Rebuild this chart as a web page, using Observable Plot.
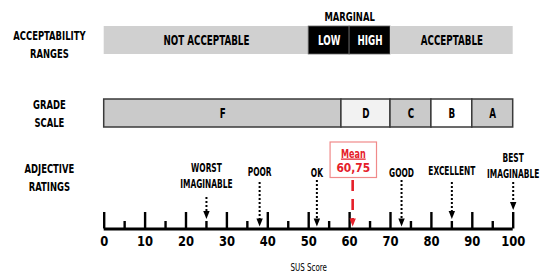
<!DOCTYPE html>
<html><head><meta charset="utf-8">
<script src="https://cdn.jsdelivr.net/npm/d3@7"></script>
<script src="https://cdn.jsdelivr.net/npm/@observablehq/plot@0.6"></script>
<style>body{margin:0;background:#fff}</style>
</head><body><div id="chart"></div>
<script>
// ---- data ----
const rowLabels = ["ACCEPTABILITY\nRANGES", "GRADE\nSCALE", "ADJECTIVE\nRATINGS"];
const marginalLabel = "MARGINAL";
const accLabels = ["NOT ACCEPTABLE", "LOW", "HIGH", "ACCEPTABLE"];
const accStart = [0, 50, 60, 70];
const accEnd = [50, 60, 70, 100];
const grades = ["F", "D", "C", "B", "A"];
const gradeStart = [0, 58, 70, 80, 90];
const gradeEnd = [58, 70, 80, 90, 100];
const adjLabels = ["WORST\nIMAGINABLE", "POOR", "OK", "GOOD", "EXCELLENT", "BEST\nIMAGINABLE"];
const adjScores = [25, 38, 52, 72.7, 85, 100];
const MEAN = 60.75;
const meanTitle = "Mean";
const tickValues = d3.range(0, 101, 5);
const tickLabelValues = d3.range(0, 101, 10);
const axisTitle = "SUS Score";

// ---- layout / style ----
const FONT = "'DejaVu Sans Condensed', 'DejaVu Sans', sans-serif";
const accColors = ["#d0d0d0", "#000", "#000", "#d0d0d0"];
const accText = ["#000", "#fff", "#fff", "#000"];
const gradeColors = ["#cacaca", "#f2f2f2", "#cacaca", "#ffffff", "#cacaca"];
const ACC_Y = [26, 54], GRADE_Y = [99, 127];
const AXIS_Y = 228.5, MAJOR_TOP = 212, MINOR_TOP = 221;
const rowLabelX = -13.4, rowLabelY = [42.5, 111.7, 176];
const adjTextBottom = [187, 175, 176, 176, 174, 177];
const adjLineTop = [197, 182, 180, 180, 182, 182];
const RED = "#e5202a";
const SQUEEZE = 0.72;      // horizontal compression for a Calibri-like narrow face
const SQUEEZE_NUM = 0.95;

const acc = accLabels.map((l, i) => ({l, a: accStart[i], b: accEnd[i], fill: accColors[i], tc: accText[i]}));
const grd = grades.map((l, i) => ({l, a: gradeStart[i], b: gradeEnd[i], fill: gradeColors[i]}));
const ticks = tickValues.map(v => ({v, top: v % 10 === 0 ? MAJOR_TOP : MINOR_TOP}));
const tipY = v => { const t = ticks.find(d => Math.abs(d.v - v) < 0.01); return (t ? t.top : AXIS_Y) - 2.5; };
const adj = adjLabels.map((l, i) => ({l, v: adjScores[i], tb: adjTextBottom[i], lt: adjLineTop[i], tip: tipY(adjScores[i])}));
const arrowHead = {draw(ctx) { ctx.moveTo(0, 0); ctx.lineTo(-3.2, -8); ctx.lineTo(3.2, -8); ctx.closePath(); }};
const meanText = MEAN.toFixed(2).replace(".", ",");
const meanCenter = MEAN + 0.15;

const chart = Plot.plot({
  width: 545, height: 272,
  marginLeft: 0, marginRight: 0, marginTop: 0, marginBottom: 0,
  x: {domain: [0, 100], range: [103.7, 512.7], axis: null},
  y: {domain: [0, 272], range: [0, 272], axis: null},
  marks: [
    Plot.text(rowLabels, {x: rowLabelX, y: (d, i) => rowLabelY[i], text: d => d, fontFamily: FONT, fontWeight: "bold", fontSize: 13, lineHeight: 1.38, fill: "#000"}),
    Plot.rect(acc, {x1: "a", x2: "b", y1: ACC_Y[0], y2: ACC_Y[1], fill: "fill", stroke: d => d.fill === "#000" ? "#666" : "none", strokeWidth: 0.8}),
    Plot.text(acc, {x: d => (d.a + d.b) / 2, y: (ACC_Y[0] + ACC_Y[1]) / 2, text: "l", fill: "tc", fontFamily: FONT, fontWeight: "bold", fontSize: 13.5}),
    Plot.text([marginalLabel], {x: (accStart[1] + accEnd[2]) / 2, y: 16, text: d => d, fontFamily: FONT, fontWeight: "bold", fontSize: 13, fill: "#000"}),
    Plot.rect(grd, {x1: "a", x2: "b", y1: GRADE_Y[0], y2: GRADE_Y[1], fill: "fill", stroke: "#3a3a3a", strokeWidth: 1.5}),
    Plot.text(grd, {x: d => (d.a + d.b) / 2, y: (GRADE_Y[0] + GRADE_Y[1]) / 2, text: "l", fontFamily: FONT, fontWeight: "bold", fontSize: 13.5, fill: "#000"}),
    Plot.ruleX(ticks, {x: "v", y1: "top", y2: AXIS_Y, stroke: "#000", strokeWidth: 2.4}),
    Plot.ruleY([AXIS_Y], {x1: 0, x2: 100, y: d => d, stroke: "#000", strokeWidth: 3}),
    Plot.text(tickLabelValues, {x: d => d, y: 241, text: d => String(d), fontFamily: FONT, fontWeight: "bold", fontSize: 13.5, fill: "#000"}),
    Plot.text([axisTitle], {x: 50, y: 266.5, text: d => d, fontFamily: FONT, fontSize: 11, fill: "#000"}),
    Plot.text(adj, {x: "v", y: "tb", text: "l", lineAnchor: "bottom", lineHeight: 1.38, fontFamily: FONT, fontWeight: "bold", fontSize: 11.5, fill: "#000"}),
    Plot.ruleX(adj, {x: "v", y1: "lt", y2: d => d.tip - 6, stroke: "#000", strokeWidth: 2, strokeDasharray: "2,2"}),
    Plot.dot(adj, {x: "v", y: "tip", symbol: arrowHead, fill: "#000", stroke: "none"}),
    Plot.rect([MEAN], {x1: d => d - 5.4, x2: d => d + 5.95, y1: 142, y2: 177.5, fill: "#fff", stroke: "#f08a8a", strokeWidth: 1.2}),
    Plot.text([meanTitle], {x: meanCenter, y: 153, text: d => d, fontFamily: FONT, fontWeight: "bold", fontSize: 12.5, fill: RED}),
    Plot.text([meanText], {x: meanCenter, y: 167, text: d => d, fontFamily: FONT, fontWeight: "bold", fontSize: 12.5, fill: RED}),
    Plot.ruleX([MEAN], {x: d => d, y1: 180, y2: tipY(MEAN) - 7, stroke: RED, strokeWidth: 2.6, strokeDasharray: "11,8"}),
    Plot.dot([MEAN], {x: d => d, y: tipY(MEAN), symbol: arrowHead, fill: RED, stroke: "none"})
  ]
});
document.getElementById("chart").appendChild(chart);
const sel = d3.select(chart);
sel.selectAll("text").filter(function() { return this.textContent === meanTitle; }).style("text-decoration", "underline");
// narrow the glyphs to mimic the original condensed face
sel.selectAll("text").each(function() {
  const isNum = /^[\d,]+$/.test(this.textContent);
  const k = isNum ? SQUEEZE_NUM : SQUEEZE;
  const spans = this.querySelectorAll("tspan");
  const targets = spans.length ? Array.from(spans) : [this];
  targets.forEach(t => {
    const w = t.getComputedTextLength();
    t.setAttribute("textLength", (w * k).toFixed(2));
    t.setAttribute("lengthAdjust", "spacingAndGlyphs");
  });
});
</script>
</body></html>
